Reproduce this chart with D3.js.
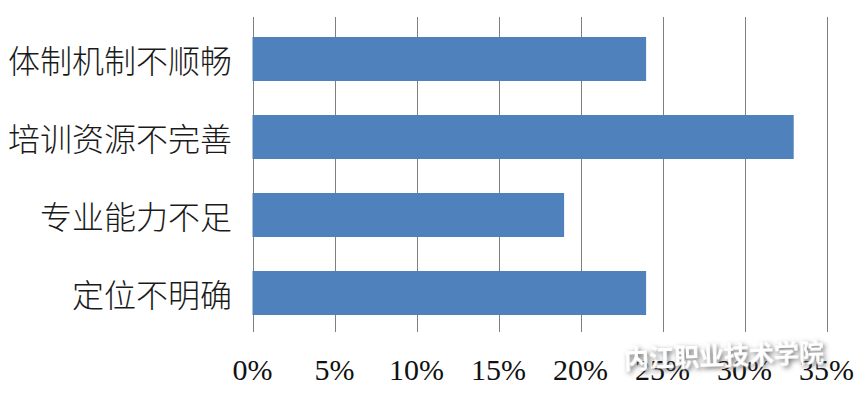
<!DOCTYPE html>
<html><head><meta charset="utf-8">
<script src="https://cdn.jsdelivr.net/npm/d3@7"></script>
<style>body{margin:0;background:#fff}svg{display:block}</style>
</head><body>
<script>
const categories = ["体制机制不顺畅","培训资源不完善","专业能力不足","定位不明确"];
const values = [24, 33, 19, 24];
const tickValues = [0,5,10,15,20,25,30,35];
const tickLabels = ["0%","5%","10%","15%","20%","25%","30%","35%"];
const watermark = "内江职业技术学院";

const W = 863, H = 403;
const svg = d3.select("body").append("svg").attr("width", W).attr("height", H);
const defs = svg.append("defs");
const f = defs.append("filter").attr("id","sh").attr("x","-20%").attr("y","-50%").attr("width","140%").attr("height","200%");
f.append("feDropShadow").attr("dx",2).attr("dy",2).attr("stdDeviation",2.5).attr("flood-color","#555").attr("flood-opacity",0.9);

const x = d3.scaleLinear().domain([0,35]).range([252.5, 826.5]);
const y = d3.scaleBand().domain(categories).range([20, 332]).paddingInner(0.436).paddingOuter(0.218);

// gridlines
svg.append("g").selectAll("line").data(tickValues).join("line")
  .attr("x1", d => Math.round(x(d)) + 0.5).attr("x2", d => Math.round(x(d)) + 0.5)
  .attr("y1", 17).attr("y2", 332)
  .attr("stroke", "#7f7f7f").attr("stroke-width", 1);

// bars
svg.append("g").selectAll("rect").data(categories).join("rect")
  .attr("x", x(0)).attr("y", d => y(d))
  .attr("width", (d,i) => x(values[i]) - x(0))
  .attr("height", y.bandwidth())
  .attr("fill", "#4F81BD");

// category labels
svg.append("g").selectAll("text").data(categories).join("text")
  .attr("x", 232).attr("y", d => y(d) + y.bandwidth()/2)
  .attr("text-anchor", "end").attr("dominant-baseline", "central")
  .style("font-family", "'Noto Sans CJK SC', sans-serif")
  .style("font-size", "32px").style("font-weight", 300).attr("fill", "#1a1a1a")
  .text(d => d);

// x tick labels
svg.append("g").selectAll("text").data(tickValues).join("text")
  .attr("x", d => x(d)).attr("y", 380)
  .attr("text-anchor", "middle")
  .style("font-family", "'Liberation Serif', serif")
  .style("font-size", "30px").attr("fill", "#111")
  .text((d,i) => tickLabels[i]);

// watermark
svg.append("text")
  .attr("x", 724).attr("y", 354)
  .attr("text-anchor", "middle").attr("dominant-baseline", "central")
  .style("font-family", "'Noto Sans CJK SC', sans-serif")
  .style("font-size", "25px").style("font-weight", 700)
  .attr("fill", "#ffffff").attr("filter", "url(#sh)")
  .attr("transform", "rotate(-2 724 354)")
  .text(watermark);
</script>
</body></html>
